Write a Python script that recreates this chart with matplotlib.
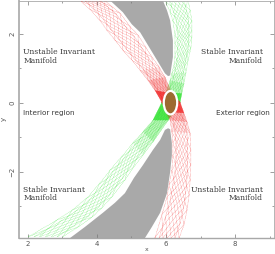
import numpy as np
import matplotlib
matplotlib.use("Agg")
import matplotlib.pyplot as plt
from matplotlib.patches import Ellipse
from matplotlib.ticker import MultipleLocator

GRAY = "#a9a9a9"
AXC = "#a8a8a8"
TXT = "#3a3a3a"

# Band edges (paired points along each manifold branch)
red_up_ax = [3.51, 3.80, 4.09, 4.29, 4.52, 4.75, 5.01, 5.25, 5.48, 5.68, 5.88]
red_up_ay = [2.96, 2.70, 2.38, 2.10, 1.81, 1.52, 1.23, 0.94, 0.65, 0.36, 0.01]
red_up_bx = [4.23, 4.43, 4.67, 4.96, 5.19, 5.42, 5.59, 5.80, 5.97, 6.17, 6.41]
red_up_by = [2.96, 2.79, 2.59, 2.21, 1.95, 1.60, 1.32, 1.03, 0.74, 0.27, 0.01]

red_lo_ax = [5.88, 6.00, 6.12, 6.17, 6.20, 6.20, 6.17, 6.09, 6.03, 5.88, 5.68]
red_lo_ay = [0.01, -0.27, -0.51, -0.85, -1.17, -1.52, -1.95, -2.38, -2.73, -3.25, -3.92]
red_lo_bx = [6.41, 6.52, 6.61, 6.70, 6.72, 6.72, 6.70, 6.67, 6.61, 6.52, 6.38]
red_lo_by = [0.01, -0.30, -0.56, -0.88, -1.37, -1.81, -2.24, -2.67, -3.11, -3.54, -3.92]

grn_up_ax = [5.97, 6.12, 6.20, 6.26, 6.26, 6.26, 6.23, 6.17, 6.12, 6.00, 5.88]
grn_up_ay = [2.96, 2.62, 2.38, 1.95, 1.72, 1.37, 1.08, 0.85, 0.65, 0.30, 0.01]
grn_up_bx = [6.64, 6.70, 6.75, 6.75, 6.75, 6.72, 6.64, 6.58, 6.52, 6.46, 6.41]
grn_up_by = [2.96, 2.67, 2.38, 2.10, 1.89, 1.58, 1.23, 0.88, 0.56, 0.27, 0.01]

grn_lo_ax = [5.88, 5.62, 5.33, 5.04, 4.70, 4.38, 4.06, 3.71, 3.28, 2.84, 2.00]
grn_lo_ay = [0.01, -0.51, -0.85, -1.17, -1.58, -1.95, -2.36, -2.76, -3.11, -3.40, -3.89]
grn_lo_bx = [6.41, 6.06, 5.62, 5.33, 5.04, 4.81, 4.43, 4.14, 3.86, 3.45, 3.01]
grn_lo_by = [0.01, -0.51, -1.14, -1.52, -1.89, -2.24, -2.73, -3.05, -3.31, -3.60, -3.89]

strand_frac = [
    [0, 0, 0, 0, 0, 0, 0, 0, 0, 0, 0],
    [1, 1, 1, 1, 1, 1, 1, 1, 1, 1, 1],
    [.00, .33, .67, 1.0, .67, .33, .00, .33, .67, 1.0, .67],
    [.33, .67, 1.0, .67, .33, .00, .33, .67, 1.0, .67, .33],
    [.67, 1.0, .67, .33, .00, .33, .67, 1.0, .67, .33, .00],
    [1.0, .67, .33, .00, .33, .67, 1.0, .67, .33, .00, .33],
    [.67, .33, .00, .33, .67, 1.0, .67, .33, .00, .33, .67],
    [.33, .00, .33, .67, 1.0, .67, .33, .00, .33, .67, 1.0],
    [.17, .50, .83, .83, .50, .17, .17, .50, .83, .83, .50],
    [.50, .83, .83, .50, .17, .17, .50, .83, .83, .50, .17],
    [.83, .83, .50, .17, .17, .50, .83, .83, .50, .17, .17],
    [.83, .50, .17, .17, .50, .83, .83, .50, .17, .17, .50],
    [.50, .17, .17, .50, .83, .83, .50, .17, .17, .50, .83],
    [.17, .17, .50, .83, .83, .50, .17, .17, .50, .83, .83],
]

gray_up_x = [4.38, 4.75, 5.01, 5.25, 5.62, 5.97, 6.06, 6.12, 6.20, 6.20, 6.12, 6.03, 5.91]
gray_up_y = [2.96, 2.62, 2.27, 2.04, 1.43, 0.85, 0.77, 0.79, 1.32, 1.81, 2.38, 2.67, 2.96]
gray_lo_x = [3.22, 3.65, 4.17, 4.52, 4.81, 5.07, 5.33, 5.62, 5.83, 5.97, 6.06, 6.12,
             6.17, 6.17, 6.12, 6.03, 5.83, 5.59, 5.39]
gray_lo_y = [-3.92, -3.60, -3.19, -2.90, -2.62, -2.18, -1.81, -1.37, -1.08, -0.79, -0.74, -0.77,
             -1.17, -1.52, -2.01, -2.62, -3.19, -3.60, -3.92]

labels = [
    (1.86, 1.34, "Unstable Invariant\nManifold", "left", "serif", 5.5),
    (8.81, 1.34, "Stable Invariant\nManifold", "right", "serif", 5.5),
    (1.86, -2.64, "Stable Invariant\nManifold", "left", "serif", 5.5),
    (8.81, -2.64, "Unstable Invariant\nManifold", "right", "serif", 5.5),
    (1.86, -0.30, "Interior region", "left", "sans-serif", 5.2),
    (9.01, -0.30, "Exterior region", "right", "sans-serif", 5.2),
]

fig = plt.figure(figsize=(2.75, 2.54), dpi=100)
ax = fig.add_axes([19 / 275, 16 / 254, 255 / 275, 237.5 / 254])
ax.set_xlim(1.74, 9.13)
ax.set_ylim(-3.92, 2.96)


def band(ax_, ay_, bx_, by_, color, neck_end, z):
    ax_, ay_, bx_, by_ = map(np.asarray, (ax_, ay_, bx_, by_))
    for f in strand_frac:
        f = np.asarray(f)
        ax.plot(ax_ + f * (bx_ - ax_), ay_ + f * (by_ - ay_), color=color,
                lw=0.32, ls=(0, (1, 1.8)), zorder=z)
    # wash towards the neck, where the orbits crowd together
    i = list(range(7, 11)) if neck_end else list(range(0, 4))
    for a, sel in ((0.10, i), (0.22, i[1:] if neck_end else i[:-1]),
                   (0.70, i[2:] if neck_end else i[:-2])):
        px = np.r_[ax_[sel], bx_[sel][::-1]]
        py = np.r_[ay_[sel], by_[sel][::-1]]
        ax.fill(px, py, color=color, alpha=a, lw=0, zorder=z)


ax.fill(gray_up_x, gray_up_y, color=GRAY, lw=0, zorder=1)
ax.fill(gray_lo_x, gray_lo_y, color=GRAY, lw=0, zorder=1)

band(grn_up_ax, grn_up_ay, grn_up_bx, grn_up_by, "#22e022", True, 2)
band(grn_lo_ax, grn_lo_ay, grn_lo_bx, grn_lo_by, "#22e022", False, 2)
band(red_up_ax, red_up_ay, red_up_bx, red_up_by, "#f01818", True, 3)
band(red_lo_ax, red_lo_ay, red_lo_bx, red_lo_by, "#f01818", False, 3)

ax.add_patch(Ellipse((6.13, 0.0), 0.39, 0.68, fc="#9c6a30", ec="white", lw=1.6, zorder=4))

for x, y, s, ha, fam, fs in labels:
    ax.text(x, y, s, ha=ha, va="center", family=fam, fontsize=fs, color=TXT,
            linespacing=1.05, zorder=5)

for s in ax.spines.values():
    s.set_color(AXC)
    s.set_linewidth(0.6)
ax.spines["left"].set_linewidth(1.2)
ax.spines["bottom"].set_linewidth(1.0)

ax.xaxis.set_major_locator(MultipleLocator(2))
ax.xaxis.set_minor_locator(MultipleLocator(1))
ax.yaxis.set_major_locator(MultipleLocator(2))
ax.yaxis.set_minor_locator(MultipleLocator(1))
ax.tick_params(which="major", direction="in", length=3, width=0.5, color="#777777",
               top=True, right=True, labelsize=5, labelcolor="#555555", pad=2.5)
ax.tick_params(which="minor", direction="in", length=1.5, width=0.5, color="#777777",
               top=True, right=True)
for t in ax.get_yticklabels():
    t.set_rotation(90)
    t.set_va("center")
ax.set_xlabel("x", fontsize=4.5, color="#555555", labelpad=0)
ax.set_ylabel("y", fontsize=5, color="#555555", labelpad=2)

fig.savefig("out.png", dpi=100)
